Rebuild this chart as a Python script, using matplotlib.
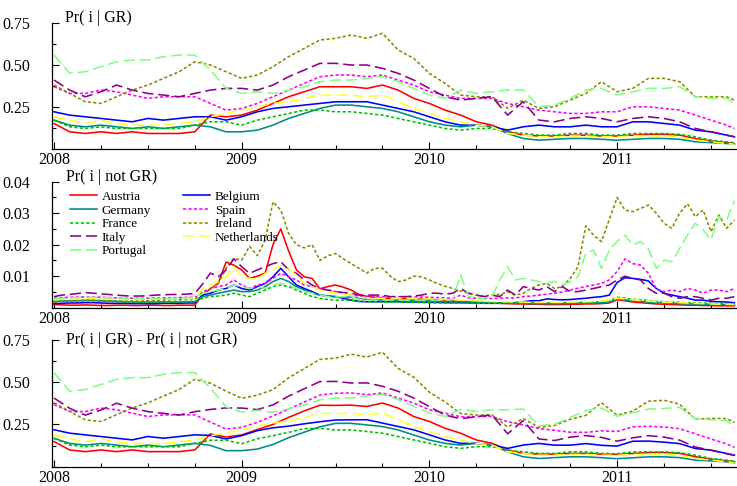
import numpy as np
import matplotlib
matplotlib.use("Agg")
import matplotlib.pyplot as plt
from matplotlib.ticker import MultipleLocator, FixedLocator, FuncFormatter

plt.rcParams['font.family'] = ['Liberation Serif', 'DejaVu Serif']

# ---------------- data ----------------
countries = ["Austria", "Belgium", "Germany", "Spain", "France",
             "Ireland", "Italy", "Netherlands", "Portugal"]
legend_order = ["Austria", "Germany", "France", "Italy", "Portugal",
                "Belgium", "Spain", "Ireland", "Netherlands"]
year_ticks = [2008, 2009, 2010, 2011]
panel_titles = ["Pr( i | GR)", "Pr( i | not GR)", "Pr( i | GR) - Pr( i | not GR)"]

# monthly samples (1st of each month Jan 2008 .. Aug 2011, plus mid-Aug 2011)
months_gr = [2008 + m / 12 for m in range(44)] + [2008 + 43.5 / 12]
# half-monthly samples for the spiky Pr(i | not GR) panel
halfmonths = [2008 + h / 24 for h in range(88)]

gr_austria = [0.15, 0.10, 0.09, 0.10, 0.09, 0.10, 0.09, 0.09, 0.09, 0.10,
              0.20, 0.19, 0.20, 0.23, 0.27, 0.31, 0.34, 0.37, 0.37, 0.37,
              0.36, 0.38, 0.35, 0.30, 0.27, 0.23, 0.20, 0.16, 0.14, 0.10,
              0.08, 0.075, 0.075, 0.08, 0.08, 0.075, 0.075, 0.08, 0.085, 0.085,
              0.08, 0.06, 0.045, 0.035, 0.03]
gr_belgium = [0.22, 0.20, 0.19, 0.18, 0.17, 0.16, 0.18, 0.17, 0.18, 0.19,
              0.19, 0.17, 0.19, 0.22, 0.24, 0.25, 0.26, 0.27, 0.28, 0.28,
              0.28, 0.26, 0.24, 0.22, 0.19, 0.16, 0.14, 0.14, 0.13, 0.11,
              0.13, 0.14, 0.13, 0.13, 0.14, 0.13, 0.13, 0.16, 0.16, 0.15,
              0.14, 0.11, 0.10, 0.08, 0.07]
gr_germany = [0.17, 0.14, 0.13, 0.14, 0.13, 0.12, 0.13, 0.12, 0.13, 0.14,
              0.13, 0.10, 0.10, 0.11, 0.14, 0.18, 0.21, 0.24, 0.26, 0.26,
              0.25, 0.24, 0.22, 0.19, 0.16, 0.14, 0.13, 0.14, 0.13, 0.09,
              0.06, 0.05, 0.055, 0.06, 0.06, 0.055, 0.05, 0.055, 0.06, 0.06,
              0.055, 0.04, 0.035, 0.03, 0.025]
gr_spain = [0.37, 0.33, 0.33, 0.35, 0.34, 0.32, 0.30, 0.31, 0.31, 0.31,
            0.27, 0.23, 0.24, 0.27, 0.31, 0.35, 0.39, 0.43, 0.44, 0.44,
            0.43, 0.44, 0.41, 0.38, 0.34, 0.32, 0.30, 0.30, 0.30, 0.27,
            0.25, 0.23, 0.22, 0.21, 0.21, 0.22, 0.22, 0.25, 0.25, 0.24,
            0.23, 0.20, 0.17, 0.14, 0.12]
gr_france = [0.17, 0.13, 0.12, 0.13, 0.12, 0.12, 0.12, 0.12, 0.12, 0.14,
             0.16, 0.16, 0.14, 0.17, 0.19, 0.21, 0.23, 0.23, 0.22, 0.22,
             0.21, 0.20, 0.18, 0.16, 0.14, 0.12, 0.11, 0.12, 0.12, 0.10,
             0.09, 0.08, 0.08, 0.09, 0.09, 0.08, 0.08, 0.09, 0.09, 0.09,
             0.085, 0.07, 0.05, 0.04, 0.035]
gr_ireland = [0.38, 0.33, 0.28, 0.27, 0.31, 0.35, 0.38, 0.42, 0.46, 0.52,
              0.50, 0.46, 0.42, 0.44, 0.49, 0.55, 0.60, 0.65, 0.66, 0.68,
              0.66, 0.69, 0.59, 0.54, 0.45, 0.39, 0.32, 0.31, 0.31, 0.24,
              0.29, 0.24, 0.25, 0.29, 0.33, 0.40, 0.34, 0.36, 0.42, 0.42,
              0.40, 0.31, 0.31, 0.31, 0.29]
gr_italy = [0.41, 0.35, 0.31, 0.34, 0.38, 0.35, 0.33, 0.32, 0.31, 0.33,
            0.35, 0.36, 0.36, 0.35, 0.38, 0.43, 0.47, 0.51, 0.51, 0.50,
            0.50, 0.48, 0.45, 0.41, 0.36, 0.31, 0.29, 0.30, 0.31, 0.20,
            0.28, 0.17, 0.16, 0.18, 0.19, 0.18, 0.16, 0.18, 0.19, 0.18,
            0.16, 0.12, 0.10, 0.08, 0.07]
gr_netherlands = [0.19, 0.17, 0.15, 0.17, 0.15, 0.14, 0.14, 0.14, 0.15, 0.16,
                  0.19, 0.21, 0.23, 0.25, 0.27, 0.28, 0.30, 0.32, 0.32, 0.32,
                  0.31, 0.32, 0.28, 0.24, 0.21, 0.18, 0.16, 0.14, 0.13, 0.09,
                  0.08, 0.07, 0.07, 0.075, 0.075, 0.07, 0.07, 0.075, 0.075, 0.075,
                  0.07, 0.05, 0.04, 0.03, 0.025]
gr_portugal = [0.56, 0.45, 0.46, 0.49, 0.52, 0.53, 0.53, 0.55, 0.56, 0.56,
               0.47, 0.36, 0.33, 0.34, 0.33, 0.35, 0.37, 0.40, 0.41, 0.41,
               0.42, 0.43, 0.40, 0.36, 0.32, 0.30, 0.35, 0.33, 0.34, 0.35,
               0.35, 0.25, 0.26, 0.30, 0.35, 0.36, 0.32, 0.34, 0.36, 0.36,
               0.37, 0.31, 0.30, 0.30, 0.27]

notgr_austria = [0.0010, 0.0009, 0.0008, 0.0008, 0.0009, 0.0008, 0.0007, 0.0007, 0.0008, 0.0008,
                 0.0007, 0.0007, 0.0008, 0.0008, 0.0007, 0.0007, 0.0008, 0.0008, 0.0008,
                 0.0040, 0.0060, 0.0077, 0.0145, 0.0135, 0.0120, 0.0093, 0.0100, 0.0110, 0.0200,
                 0.0250, 0.0180, 0.0120, 0.0098, 0.0093, 0.0060, 0.0067, 0.0072, 0.0065, 0.0056,
                 0.0042, 0.0036, 0.0033, 0.0031, 0.0030, 0.0029, 0.0028, 0.0028, 0.0027, 0.0026,
                 0.0025, 0.0024, 0.0022, 0.0021, 0.0019, 0.0018, 0.0016, 0.0015, 0.0014, 0.0013,
                 0.0012, 0.0012, 0.0011, 0.0011, 0.0010, 0.0010, 0.0010, 0.0011, 0.0011, 0.0012,
                 0.0012, 0.0013, 0.0015,
                 0.0025, 0.0022, 0.0018, 0.0016, 0.0014, 0.0012, 0.0011, 0.0010, 0.0009, 0.0008,
                 0.0008, 0.0007, 0.0007, 0.0006, 0.0006, 0.0006]
notgr_belgium = [0.0013, 0.0014, 0.0015, 0.0015, 0.0016, 0.0016, 0.0015, 0.0014, 0.0014, 0.0014,
                 0.0013, 0.0013, 0.0013, 0.0013, 0.0014, 0.0014, 0.0014, 0.0015, 0.0015,
                 0.0040, 0.0046, 0.0056, 0.0061, 0.0072, 0.0061, 0.0056, 0.0067, 0.0077, 0.0098, 0.0125,
                 0.0098, 0.0072, 0.0061, 0.0051, 0.0040, 0.0037, 0.0035, 0.0030, 0.0024, 0.0020,
                 0.0019, 0.0019, 0.0019, 0.0019, 0.0019, 0.0018, 0.0018, 0.0018, 0.0017, 0.0017,
                 0.0016, 0.0016, 0.0016, 0.0015, 0.0015, 0.0014, 0.0014, 0.0014, 0.0014,
                 0.0016, 0.0019, 0.0022, 0.0022, 0.0028, 0.0026, 0.0025, 0.0026, 0.0028, 0.0030,
                 0.0033, 0.0035, 0.0040, 0.0080, 0.0095, 0.0093, 0.0090, 0.0085, 0.0061, 0.0046,
                 0.0040, 0.0035, 0.0030, 0.0024, 0.0024, 0.0020, 0.0019, 0.0018, 0.0016]
notgr_germany = [0.0020, 0.0021, 0.0022, 0.0022, 0.0023, 0.0023, 0.0022, 0.0021, 0.0020, 0.0019,
                 0.0018, 0.0018, 0.0018, 0.0018, 0.0018, 0.0018, 0.0018, 0.0019, 0.0019,
                 0.0035, 0.0040, 0.0046, 0.0051, 0.0056, 0.0051, 0.0051, 0.0056, 0.0067, 0.0083, 0.0093,
                 0.0083, 0.0067, 0.0056, 0.0046, 0.0040, 0.0037, 0.0035, 0.0034, 0.0033, 0.0030,
                 0.0027, 0.0025, 0.0024, 0.0024, 0.0023, 0.0023, 0.0022, 0.0022, 0.0021, 0.0020,
                 0.0020, 0.0019, 0.0019, 0.0018, 0.0017, 0.0016, 0.0016, 0.0015, 0.0015,
                 0.0014, 0.0014, 0.0013, 0.0013, 0.0013, 0.0013, 0.0013, 0.0014, 0.0014, 0.0015,
                 0.0015, 0.0016, 0.0018, 0.0028, 0.0025, 0.0022, 0.0020, 0.0018, 0.0016, 0.0015,
                 0.0014, 0.0013, 0.0012, 0.0012, 0.0011, 0.0011, 0.0010, 0.0010, 0.0010]
notgr_spain = [0.0030, 0.0032, 0.0033, 0.0034, 0.0034, 0.0034, 0.0033, 0.0032, 0.0031, 0.0030,
               0.0030, 0.0030, 0.0030, 0.0031, 0.0031, 0.0032, 0.0032, 0.0033, 0.0033,
               0.0050, 0.0061, 0.0067, 0.0072, 0.0088, 0.0072, 0.0061, 0.0072, 0.0077, 0.0093, 0.0109,
               0.0098, 0.0088, 0.0072, 0.0067, 0.0061, 0.0056, 0.0051, 0.0046, 0.0040, 0.0037,
               0.0035, 0.0035, 0.0035, 0.0035, 0.0035, 0.0035, 0.0034, 0.0034, 0.0033, 0.0032,
               0.0031, 0.0030, 0.0040, 0.0031, 0.0030, 0.0029, 0.0029, 0.0030, 0.0031,
               0.0031, 0.0035, 0.0037, 0.0040, 0.0043, 0.0046, 0.0050, 0.0056, 0.0062, 0.0067,
               0.0072, 0.0077, 0.0088, 0.0115, 0.0155, 0.0140, 0.0135, 0.0109, 0.0060, 0.0051,
               0.0056, 0.0051, 0.0061, 0.0056, 0.0046, 0.0056, 0.0056, 0.0051, 0.0061]
notgr_france = [0.0020, 0.0021, 0.0021, 0.0022, 0.0022, 0.0022, 0.0021, 0.0020, 0.0020, 0.0019,
                0.0019, 0.0019, 0.0019, 0.0019, 0.0019, 0.0019, 0.0020, 0.0020, 0.0020,
                0.0030, 0.0035, 0.0037, 0.0040, 0.0046, 0.0040, 0.0035, 0.0046, 0.0056, 0.0067, 0.0072,
                0.0067, 0.0056, 0.0046, 0.0035, 0.0030, 0.0026, 0.0024, 0.0024, 0.0023, 0.0020,
                0.0019, 0.0019, 0.0018, 0.0018, 0.0018, 0.0017, 0.0017, 0.0016, 0.0016, 0.0015,
                0.0015, 0.0015, 0.0014, 0.0014, 0.0014, 0.0014, 0.0014, 0.0015, 0.0016,
                0.0016, 0.0016, 0.0015, 0.0015, 0.0015, 0.0015, 0.0016, 0.0016, 0.0017, 0.0018,
                0.0018, 0.0020, 0.0022, 0.0033, 0.0030, 0.0027, 0.0025, 0.0023, 0.0020, 0.0019,
                0.0018, 0.0017, 0.0016, 0.0016, 0.0015, 0.0014, 0.0014, 0.0013, 0.0013]
notgr_ireland = [0.0018, 0.0020, 0.0022, 0.0023, 0.0024, 0.0024, 0.0023, 0.0022, 0.0021, 0.0021,
                 0.0021, 0.0022, 0.0022, 0.0023, 0.0024, 0.0025, 0.0026, 0.0027, 0.0028,
                 0.0045, 0.0060, 0.0077, 0.0125, 0.0157, 0.0151, 0.0195, 0.0165, 0.0215, 0.0336, 0.0310,
                 0.0236, 0.0200, 0.0190, 0.0200, 0.0150, 0.0165, 0.0172, 0.0155, 0.0140, 0.0125,
                 0.0110, 0.0125, 0.0125, 0.0100, 0.0083, 0.0088, 0.0100, 0.0098, 0.0088, 0.0077,
                 0.0068, 0.0061, 0.0053, 0.0046, 0.0040, 0.0037, 0.0040, 0.0042, 0.0050,
                 0.0040, 0.0046, 0.0061, 0.0072, 0.0077, 0.0061, 0.0067, 0.0093, 0.0130, 0.0260,
                 0.0230, 0.0210, 0.0280, 0.0350, 0.0310, 0.0305, 0.0315, 0.0326, 0.0300, 0.0268,
                 0.0252, 0.0300, 0.0330, 0.0289, 0.0310, 0.0241, 0.0294, 0.0252, 0.0278]
notgr_italy = [0.0035, 0.0040, 0.0042, 0.0045, 0.0048, 0.0046, 0.0044, 0.0042, 0.0040, 0.0038,
               0.0037, 0.0037, 0.0038, 0.0040, 0.0041, 0.0042, 0.0042, 0.0043, 0.0045,
               0.0075, 0.0110, 0.0098, 0.0120, 0.0155, 0.0130, 0.0109, 0.0120, 0.0130, 0.0140, 0.0146,
               0.0120, 0.0109, 0.0088, 0.0072, 0.0061, 0.0056, 0.0051, 0.0048, 0.0046, 0.0040,
               0.0040, 0.0040, 0.0040, 0.0035, 0.0035, 0.0035, 0.0037, 0.0040, 0.0046, 0.0046,
               0.0043, 0.0046, 0.0061, 0.0046, 0.0040, 0.0035, 0.0040, 0.0035, 0.0056,
               0.0040, 0.0067, 0.0061, 0.0056, 0.0067, 0.0051, 0.0067, 0.0051, 0.0051, 0.0056,
               0.0061, 0.0067, 0.0072, 0.0088, 0.0100, 0.0093, 0.0088, 0.0061, 0.0046, 0.0046,
               0.0035, 0.0030, 0.0035, 0.0035, 0.0030, 0.0024, 0.0030, 0.0030, 0.0035]
notgr_netherlands = [0.0025, 0.0027, 0.0028, 0.0029, 0.0030, 0.0030, 0.0029, 0.0028, 0.0027, 0.0026,
                     0.0026, 0.0026, 0.0026, 0.0027, 0.0027, 0.0028, 0.0028, 0.0029, 0.0030,
                     0.0060, 0.0072, 0.0083, 0.0098, 0.0130, 0.0098, 0.0093, 0.0088, 0.0109, 0.0120, 0.0135,
                     0.0120, 0.0104, 0.0077, 0.0067, 0.0056, 0.0051, 0.0046, 0.0043, 0.0040, 0.0033,
                     0.0031, 0.0030, 0.0030, 0.0030, 0.0030, 0.0029, 0.0029, 0.0028, 0.0028, 0.0027,
                     0.0026, 0.0025, 0.0024, 0.0023, 0.0022, 0.0021, 0.0020, 0.0019, 0.0019,
                     0.0018, 0.0018, 0.0017, 0.0017, 0.0017, 0.0017, 0.0017, 0.0018, 0.0018, 0.0019,
                     0.0020, 0.0021, 0.0023, 0.0030, 0.0028, 0.0025, 0.0023, 0.0021, 0.0019, 0.0018,
                     0.0017, 0.0016, 0.0015, 0.0014, 0.0013, 0.0012, 0.0011, 0.0011, 0.0010]
notgr_portugal = [0.0028, 0.0030, 0.0031, 0.0032, 0.0033, 0.0033, 0.0032, 0.0031, 0.0030, 0.0029,
                  0.0029, 0.0028, 0.0028, 0.0029, 0.0029, 0.0030, 0.0030, 0.0031, 0.0032,
                  0.0045, 0.0051, 0.0056, 0.0061, 0.0072, 0.0067, 0.0061, 0.0067, 0.0061, 0.0072, 0.0077,
                  0.0072, 0.0061, 0.0051, 0.0046, 0.0040, 0.0035, 0.0035, 0.0035, 0.0035, 0.0026,
                  0.0024, 0.0024, 0.0024, 0.0024, 0.0024, 0.0024, 0.0024, 0.0024, 0.0024, 0.0024,
                  0.0024, 0.0025, 0.0104, 0.0035, 0.0030, 0.0030, 0.0035, 0.0088, 0.0130,
                  0.0088, 0.0093, 0.0088, 0.0083, 0.0077, 0.0083, 0.0072, 0.0083, 0.0098, 0.0172,
                  0.0183, 0.0125, 0.0183, 0.0210, 0.0230, 0.0199, 0.0210, 0.0188, 0.0125, 0.0151,
                  0.0146, 0.0188, 0.0231, 0.0268, 0.0247, 0.0215, 0.0289, 0.0278, 0.0340]

gr = {"Austria": gr_austria, "Belgium": gr_belgium, "Germany": gr_germany,
      "Spain": gr_spain, "France": gr_france, "Ireland": gr_ireland,
      "Italy": gr_italy, "Netherlands": gr_netherlands, "Portugal": gr_portugal}
notgr = {"Austria": notgr_austria, "Belgium": notgr_belgium, "Germany": notgr_germany,
         "Spain": notgr_spain, "France": notgr_france, "Ireland": notgr_ireland,
         "Italy": notgr_italy, "Netherlands": notgr_netherlands, "Portugal": notgr_portugal}

for c in countries:
    assert len(gr[c]) == len(months_gr), (c, len(gr[c]))
    assert len(notgr[c]) == len(halfmonths), (c, len(notgr[c]))

# Pr(i|not GR) at the monthly sample dates (every 2nd half-month + last)
idx_monthly = list(range(0, 88, 2)) + [87]
diff = {c: np.array(gr[c]) - np.array(notgr[c])[idx_monthly] for c in countries}

# ---------------- styles ----------------
DOT = (0, (2.0, 1.4))
DASH = (0, (7, 3))
style = {
    "Austria": ("#ff0000", "-"),
    "Belgium": ("#0000ff", "-"),
    "Germany": ("#008b8b", "-"),
    "Spain": ("#ff00ff", DOT),
    "France": ("#00c000", DOT),
    "Ireland": ("#8b8b00", DOT),
    "Italy": ("#8b008b", DASH),
    "Netherlands": ("#ffff30", DASH),
    "Portugal": ("#80ff80", DASH),
}

W, H = 737, 486
fig = plt.figure(figsize=(W / 100, H / 100), dpi=100)
px_year = 187.7
X0 = 2008 - 2 / px_year
X1 = X0 + 685 / px_year

def make_ax(bottom_px, height_px):
    return fig.add_axes([52 / W, (H - bottom_px) / H, 685 / W, height_px / H])

ax1 = make_ax(148.5, 125.2)
ax2 = make_ax(307.7, 126.0)
ax3 = make_ax(466.7, 126.7)

def style_ax(ax, ylim, majors, minor_step):
    ax.set_xlim(X0, X1)
    ax.set_ylim(*ylim)
    for s in ("top", "right"):
        ax.spines[s].set_visible(False)
    for s in ("left", "bottom"):
        ax.spines[s].set_linewidth(0.9)
    ax.xaxis.set_major_locator(FixedLocator(year_ticks))
    ax.xaxis.set_major_formatter(FuncFormatter(lambda v, p: "%d" % round(v)))
    ax.xaxis.set_minor_locator(MultipleLocator(0.25))
    ax.yaxis.set_major_locator(FixedLocator(majors))
    ax.yaxis.set_major_formatter(FuncFormatter(lambda v, p: "%.2f" % v))
    ax.yaxis.set_minor_locator(MultipleLocator(minor_step))
    ax.tick_params(which="both", direction="in", top=False, right=False, width=0.8)
    ax.tick_params(which="major", length=5)
    ax.tick_params(which="minor", length=3)
    ax.tick_params(axis="y", which="major", pad=16, labelsize=11.5)
    ax.tick_params(axis="x", which="major", pad=2.5, labelsize=11.5)

lw = 1.15
for c in countries:
    col, ls = style[c]
    ax1.plot(months_gr, gr[c], color=col, linestyle=ls, lw=lw)
    ax2.plot(halfmonths, notgr[c], color=col, linestyle=ls, lw=lw, label=c)
    ax3.plot(months_gr, diff[c], color=col, linestyle=ls, lw=lw)

style_ax(ax1, (0, 0.75), [0.25, 0.50, 0.75], 0.125)
style_ax(ax2, (0, 0.04), [0.01, 0.02, 0.03, 0.04], 0.005)
style_ax(ax3, (0, 0.75), [0.25, 0.50, 0.75], 0.125)

ax1.text(0.019, 1.013, panel_titles[0], transform=ax1.transAxes, fontsize=11.5, va="baseline")
ax2.text(0.021, 1.005, panel_titles[1], transform=ax2.transAxes, fontsize=11.5, va="baseline")
ax3.text(0.021, 0.968, panel_titles[2], transform=ax3.transAxes, fontsize=11.5, va="baseline")

handles, labels = ax2.get_legend_handles_labels()
hmap = dict(zip(labels, handles))
ax2.legend([hmap[c] for c in legend_order], legend_order, ncol=2, frameon=False,
           loc="upper left", bbox_to_anchor=(0.0263, 0.928), borderpad=0,
           borderaxespad=0, handlelength=2.05, handletextpad=0.36,
           columnspacing=2.4, labelspacing=0.1, fontsize=9.5)

fig.savefig("out.png", dpi=100)
